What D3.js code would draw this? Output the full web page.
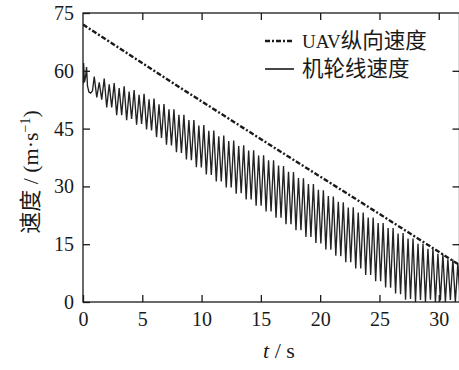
<!DOCTYPE html>
<html>
<head>
<meta charset="utf-8">
<script src="https://cdn.jsdelivr.net/npm/d3@7"></script>
<style>
  body { margin: 0; background: #fff; }
  svg { display: block; }
</style>
</head>
<body>
<div id="chart"></div>
<script>
// ---- data ----
const xTicks = [0, 5, 10, 15, 20, 25, 30];
const yTicks = [0, 15, 30, 45, 60, 75];
const legendLabels = ['UAV纵向速度', '机轮线速度'];

// UAV longitudinal speed (t, m/s)
const uavSpeed = [[0, 72], [8, 56], [16, 40.3], [24, 24.8], [31.75, 9.6]];

// wheel linear speed (t, m/s) – peaks and troughs
const wheelSpeed = [
  [0, 56.5], [0.05, 62], [0.12, 57], [0.22, 58.5], [0.3, 61], [0.38, 56], [0.5, 54.5], [0.65, 54.2], [0.8, 54.8],
  [0.95, 58.5], [1.16, 53.1], [1.37, 57.0], [1.58, 52.5], [1.79, 58.0], [2.00, 50.5], [2.21, 56.5], [2.42, 50.5],
  [2.63, 56.8], [2.84, 48.5], [3.05, 55.5], [3.26, 48.5], [3.47, 56.0], [3.68, 47.2], [3.89, 54.6], [4.10, 47.5],
  [4.31, 55.0], [4.52, 46.0], [4.73, 53.8], [4.94, 46.2], [5.15, 54.0], [5.36, 44.8], [5.57, 52.6], [5.78, 44.5],
  [5.99, 52.8], [6.20, 42.8], [6.41, 51.3], [6.62, 42.6], [6.83, 51.4], [7.04, 40.8], [7.25, 50.0], [7.46, 40.6],
  [7.67, 50.0], [7.88, 38.9], [8.09, 48.6], [8.30, 38.7], [8.51, 48.6], [8.72, 37.0], [8.93, 47.2], [9.14, 36.8],
  [9.35, 47.2], [9.56, 35.0], [9.77, 45.8], [9.98, 34.9], [10.19, 45.9], [10.40, 33.1], [10.61, 44.4], [10.82, 33.0],
  [11.03, 44.5], [11.24, 31.3], [11.45, 43.0], [11.66, 31.3], [11.87, 43.2], [12.08, 29.7], [12.29, 41.8], [12.50, 29.7],
  [12.71, 41.9], [12.92, 28.1], [13.13, 40.5], [13.34, 28.2], [13.55, 40.7], [13.76, 26.6], [13.97, 39.3], [14.18, 26.6],
  [14.39, 39.4], [14.60, 25.0], [14.81, 38.0], [15.02, 25.0], [15.23, 38.1], [15.44, 23.5], [15.65, 36.8], [15.86, 23.5],
  [16.07, 36.8], [16.28, 21.9], [16.49, 35.4], [16.70, 21.9], [16.91, 35.3], [17.12, 20.2], [17.33, 33.8], [17.54, 20.2],
  [17.75, 33.7], [17.96, 18.6], [18.17, 32.2], [18.38, 18.6], [18.59, 32.1], [18.80, 16.9], [19.01, 30.6], [19.22, 16.9],
  [19.43, 30.6], [19.64, 15.3], [19.85, 29.1], [20.06, 15.2], [20.27, 29.0], [20.48, 13.6], [20.69, 27.5], [20.90, 13.6],
  [21.11, 27.4], [21.32, 12.0], [21.53, 26.0], [21.74, 11.9], [21.95, 25.9], [22.16, 10.3], [22.37, 24.5], [22.58, 10.3],
  [22.79, 24.6], [23.00, 8.7], [23.21, 23.2], [23.42, 8.7], [23.63, 23.2], [23.84, 7.0], [24.05, 21.9], [24.26, 7.0],
  [24.47, 21.9], [24.68, 5.4], [24.89, 20.5], [25.10, 5.4], [25.31, 20.5], [25.52, 3.8], [25.73, 19.2], [25.94, 3.7],
  [26.15, 19.2], [26.36, 2.2], [26.57, 17.8], [26.78, 2.0], [26.99, 17.9], [27.20, 0.6], [27.41, 16.5], [27.62, 0.8],
  [27.83, 16.5], [28.04, 0], [28.25, 15.1], [28.46, 0.5], [28.67, 15.1], [28.88, 0], [29.09, 13.8], [29.30, 0.6],
  [29.51, 13.8], [29.72, 0], [29.93, 12.5], [30.14, 0.4], [30.35, 12.4], [30.56, 0], [30.77, 11.1], [30.98, 0.5],
  [31.19, 11.0], [31.40, 0], [31.61, 9.9], [31.82, 0.3]
];

// ---- chart ----
const width = 459;
const height = 370;
const plot = { left: 83, right: 459.5, top: 13, bottom: 302 };
const serif = "'Liberation Serif', 'DejaVu Serif', serif";
const cjk = "'Noto Sans CJK SC', 'Noto Sans', sans-serif";
const ink = '#1a1a1a';

const svg = d3.select('#chart')
  .append('svg')
  .attr('width', width)
  .attr('height', height)
  .style('background', '#fff');

const x = d3.scaleLinear().domain([0, 31.75]).range([plot.left, plot.right]);
const y = d3.scaleLinear().domain([0, 75]).range([plot.bottom, plot.top]);

svg.append('defs').append('clipPath').attr('id', 'clip')
  .append('rect')
  .attr('x', plot.left)
  .attr('y', plot.top)
  .attr('width', plot.right - plot.left)
  .attr('height', plot.bottom - plot.top);

/* lines */
const line = d3.line().x(d => x(d[0])).y(d => y(d[1]));
const lines = svg.append('g').attr('clip-path', 'url(#clip)');

lines.append('path')
  .attr('d', line(wheelSpeed))
  .attr('fill', 'none')
  .attr('stroke', '#222')
  .attr('stroke-width', 1.35);

lines.append('path')
  .attr('d', line(uavSpeed))
  .attr('fill', 'none')
  .attr('stroke', ink)
  .attr('stroke-width', 2.4)
  .attr('stroke-dasharray', '5,2,2,2');

/* axes, ticks inward on all four sides */
const tickLen = 7;
const styleAxis = g => {
  g.select('.domain').remove();
  g.selectAll('.tick line').attr('stroke', ink).attr('stroke-width', 1.3);
};
const styleLabels = g => g.selectAll('text')
  .style('font-family', serif)
  .style('font-size', '20px')
  .attr('fill', ink);

svg.append('g')
  .attr('transform', `translate(0, ${plot.bottom})`)
  .call(d3.axisBottom(x).tickValues(xTicks).tickSize(-tickLen).tickPadding(10))
  .call(styleAxis)
  .call(styleLabels);

svg.append('g')
  .attr('transform', `translate(0, ${plot.top})`)
  .call(d3.axisTop(x).tickValues(xTicks.filter(d => d > 0)).tickSize(-tickLen).tickFormat(''))
  .call(styleAxis);

svg.append('g')
  .attr('transform', `translate(${plot.left}, 0)`)
  .call(d3.axisLeft(y).tickValues(yTicks).tickSize(-tickLen).tickPadding(9))
  .call(styleAxis)
  .call(styleLabels);

svg.append('g')
  .attr('transform', `translate(${plot.right}, 0)`)
  .call(d3.axisRight(y).tickValues(yTicks.filter(d => d > 0 && d < 75)).tickSize(-tickLen).tickFormat(''))
  .call(styleAxis);

/* frame */
svg.append('rect')
  .attr('x', plot.left)
  .attr('y', plot.top)
  .attr('width', plot.right - plot.left)
  .attr('height', plot.bottom - plot.top)
  .attr('fill', 'none')
  .attr('stroke', ink)
  .attr('stroke-width', 1.3);

/* axis titles */
const xTitle = svg.append('text')
  .attr('x', 279)
  .attr('y', 358)
  .attr('text-anchor', 'middle')
  .style('font-family', serif)
  .style('font-size', '22px')
  .attr('fill', ink);
xTitle.append('tspan').style('font-style', 'italic').text('t');
xTitle.append('tspan').text(' / s');

const yTitle = svg.append('text')
  .attr('transform', 'translate(38, 172) rotate(-90)')
  .attr('text-anchor', 'middle')
  .style('font-size', '22px')
  .attr('fill', ink);
yTitle.append('tspan').style('font-family', cjk).text('速度');
yTitle.append('tspan').style('font-family', serif).text(' / (m·s');
yTitle.append('tspan').style('font-family', serif).style('font-size', '14px').attr('dy', -8).text('−1');
yTitle.append('tspan').style('font-family', serif).attr('dy', 8).text(')');

/* legend */
const legend = svg.append('g');
const legendStyles = [
  { dash: '5,2,2,2', width: 2.4 },
  { dash: null, width: 1.6 }
];
legendLabels.forEach((name, i) => {
  const ly = 41 + i * 28;
  legend.append('line')
    .attr('x1', 265).attr('x2', 294)
    .attr('y1', ly).attr('y2', ly)
    .attr('stroke', ink)
    .attr('stroke-width', legendStyles[i].width)
    .attr('stroke-dasharray', legendStyles[i].dash);
  const t = legend.append('text')
    .attr('x', 302)
    .attr('y', ly + 7)
    .attr('fill', ink);
  const m = name.match(/^([A-Za-z]*)(.*)$/);
  if (m[1]) t.append('tspan').style('font-family', serif).style('font-size', '19px').text(m[1]);
  t.append('tspan').style('font-family', cjk).style('font-size', '21.5px').text(m[2]);
});
</script>
</body>
</html>
